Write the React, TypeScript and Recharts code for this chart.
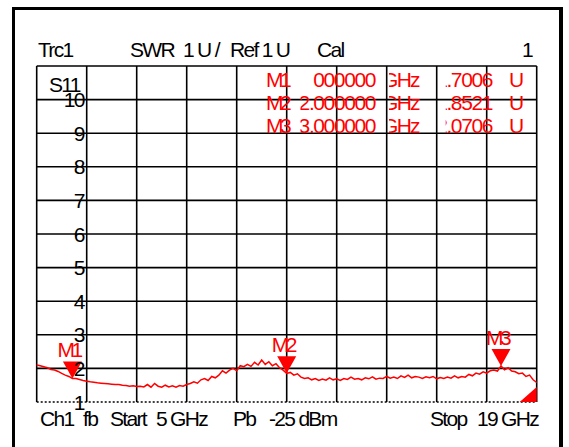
import React from 'react';
import { LineChart, Line, XAxis, YAxis, CartesianGrid, ReferenceDot } from 'recharts';

// sweep 5 .. 19 GHz, 0.1 GHz per point
const START_GHZ = 5;
const STOP_GHZ = 19;
const STEP_GHZ = 0.1;

const SWR = [
    2.10, 2.08, 2.05, 2.02, 1.97, 1.95, 1.91, 1.85, 1.80, 1.76,
    1.7006, 1.70, 1.67, 1.64, 1.62, 1.60, 1.59, 1.57, 1.56, 1.55,
    1.54, 1.53, 1.52, 1.52, 1.50, 1.49, 1.47, 1.48, 1.46, 1.47,
    1.45, 1.52, 1.44, 1.55, 1.47, 1.44, 1.50, 1.45, 1.48, 1.44,
    1.49, 1.47, 1.52, 1.55, 1.60, 1.56, 1.66, 1.70, 1.64, 1.76,
    1.72, 1.80, 1.93, 1.86, 1.95, 2.00, 1.93, 2.08, 2.05, 2.12,
    2.06, 2.18, 2.10, 2.25, 2.12, 2.20, 2.08, 2.14, 2.02, 1.95,
    1.8521, 1.88, 1.80, 1.84, 1.74, 1.70, 1.72, 1.66, 1.70, 1.64,
    1.68, 1.65, 1.72, 1.66, 1.69, 1.64, 1.70, 1.67, 1.74, 1.68,
    1.70, 1.66, 1.72, 1.69, 1.75, 1.68, 1.71, 1.70, 1.76, 1.71,
    1.74, 1.70, 1.78, 1.73, 1.80, 1.72, 1.76, 1.74, 1.70, 1.75,
    1.72, 1.76, 1.69, 1.73, 1.70, 1.74, 1.71, 1.78, 1.72, 1.76,
    1.74, 1.82, 1.78, 1.86, 1.83, 1.90, 1.86, 1.93, 1.95, 1.92,
    2.0706, 1.96, 2.02, 1.92, 1.90, 1.84, 1.86, 1.76, 1.80, 1.66,
    1.58,
];

const FREQ_GRID = [5, 6.4, 7.8, 9.2, 10.6, 12, 13.4, 14.8, 16.2, 17.6, 19];
const SWR_TICKS = [1, 2, 3, 4, 5, 6, 7, 8, 9, 10, 11];

const MARKER_NAMES = ['M1', 'M2', 'M3'];
const MARKER_FREQS = [6, 12, 18];
const MARKER_VALUES = [1.7006, 1.8521, 2.0706];
// frequency column as it shows on screen (left part cut off by the cell)
const MARKER_FREQ_LABELS = ['000000', '2.000000', '3.000000'];

const data = SWR.map((v, i) => ({ f: +(START_GHZ + i * STEP_GHZ).toFixed(1), swr: v }));

const FONT = '"Liberation Sans", Arial, sans-serif';
const RED = '#ff0000';

const YTick = (props: any) => {
    const { x, y, payload } = props;
    if (payload.value === 11) return null;
    return (
        <text x={x + 47} y={y + 7.5} textAnchor="end" fontFamily={FONT} fontSize={21} letterSpacing={-1.7} fill="#000">
            {payload.value}
        </text>
    );
};

const NoTick = () => <g />;

const Marker = (name: string) => (props: any) => {
    const { cx, cy } = props;
    return (
        <g>
            <polygon points={`${cx},${cy} ${cx - 9.5},${cy - 17} ${cx + 9.5},${cy - 17}`} fill={RED} />
            <text x={cx - 15} y={cy - 21} fontFamily={FONT} fontSize={21} letterSpacing={-3.5} fill={RED}>{name}</text>
        </g>
    );
};

const CornerFlag = (props: any) => {
    const { cx, cy } = props;
    return <polygon points={`${cx},${cy} ${cx - 17},${cy} ${cx},${cy - 15}`} fill={RED} />;
};

const txt = (x: number, y: number, s: string, extra: any = {}) => (
    <text x={x} y={y} fontFamily={FONT} fontSize={21} letterSpacing={-1.7} fill="#000" {...extra}>{s}</text>
);

const App: React.FC = () => {
    const rows = [87, 110, 133];
    return (
        <div style={{ position: 'absolute', left: 0, top: 0, width: 569, height: 447, overflow: 'hidden', background: '#fff' }}>
            {/* instrument frame */}
            <div style={{ position: 'absolute', left: 12, top: 7, width: 544, height: 470, borderLeft: '3px solid #000', borderTop: '3px solid #000', borderRight: '4px solid #000' }} />

            <LineChart
                width={569}
                height={447}
                data={data}
                margin={{ top: 66, right: 32.3, bottom: 25, left: 16.7 }}
                style={{ position: 'absolute', left: 0, top: 0 }}
            >
                <CartesianGrid stroke="#000" strokeWidth={1.6} horizontalValues={SWR_TICKS.slice(1)} />
                <XAxis
                    dataKey="f"
                    type="number"
                    domain={[START_GHZ, STOP_GHZ]}
                    ticks={FREQ_GRID}
                    interval={0}
                    tick={<NoTick />}
                    tickLine={false}
                    height={20}
                    axisLine={{ stroke: '#000', strokeWidth: 1.5, strokeDasharray: '2 2' }}
                />
                <YAxis
                    type="number"
                    domain={[1, 11]}
                    ticks={SWR_TICKS}
                    allowDataOverflow
                    width={20}
                    tickSize={0}
                    tickMargin={0}
                    axisLine={false}
                    tickLine={false}
                    tick={<YTick />}
                    interval={0}
                />
                <Line type="linear" dataKey="swr" stroke={RED} strokeWidth={1.5} dot={false} isAnimationActive={false} />
                {MARKER_NAMES.map((m, i) => (
                    <ReferenceDot key={m} x={MARKER_FREQS[i]} y={MARKER_VALUES[i]} shape={Marker(m)} />
                ))}
                <ReferenceDot x={STOP_GHZ} y={1} shape={CornerFlag} ifOverflow="visible" />
            </LineChart>

            <svg width={569} height={447} style={{ position: 'absolute', left: 0, top: 0, pointerEvents: 'none' }}>
                <defs>
                    <clipPath id="cFreq"><rect x={300.5} y={60} width={80} height={80} /></clipPath>
                    <clipPath id="cUnit"><rect x={389} y={60} width={45} height={80} /></clipPath>
                    <clipPath id="cVal"><rect x={445.7} y={60} width={60} height={80} /></clipPath>
                </defs>
                {/* header */}
                {txt(38, 57, 'Trc1')}
                {txt(130, 57, 'SWR')}
                {txt(183, 57, '1 U /')}
                {txt(230, 57, 'Ref 1 U')}
                {txt(317, 57, 'Cal')}
                {txt(532, 57, '1', { textAnchor: 'end' })}
                {txt(49, 91.7, 'S11')}

                {/* marker table */}
                {MARKER_NAMES.map((m, i) => (
                    <g key={m} fill={RED} fontFamily={FONT} fontSize={21}>
                        <text x={266} y={rows[i]} letterSpacing={-3.5}>{m}</text>
                        <text x={375} y={rows[i]} textAnchor="end" letterSpacing={-1.4} clipPath="url(#cFreq)">{MARKER_FREQ_LABELS[i]}</text>
                        <text x={382} y={rows[i]} letterSpacing={-1.7} clipPath="url(#cUnit)">GHz</text>
                        <text x={492} y={rows[i]} textAnchor="end" letterSpacing={-1.4} clipPath="url(#cVal)">{MARKER_VALUES[i].toFixed(4)}</text>
                        <text x={509} y={rows[i]}>U</text>
                    </g>
                ))}

                {/* footer */}
                {txt(40, 426, 'Ch1')}
                {txt(83, 426, 'fb')}
                {txt(110, 426, 'Start')}
                {txt(156, 426, `${START_GHZ} GHz`)}
                {txt(233, 426, 'Pb')}
                {txt(269, 426, '-25 dBm')}
                {txt(430, 426, 'Stop')}
                {txt(477, 426, `${STOP_GHZ} GHz`)}
            </svg>
        </div>
    );
};

export default App;
